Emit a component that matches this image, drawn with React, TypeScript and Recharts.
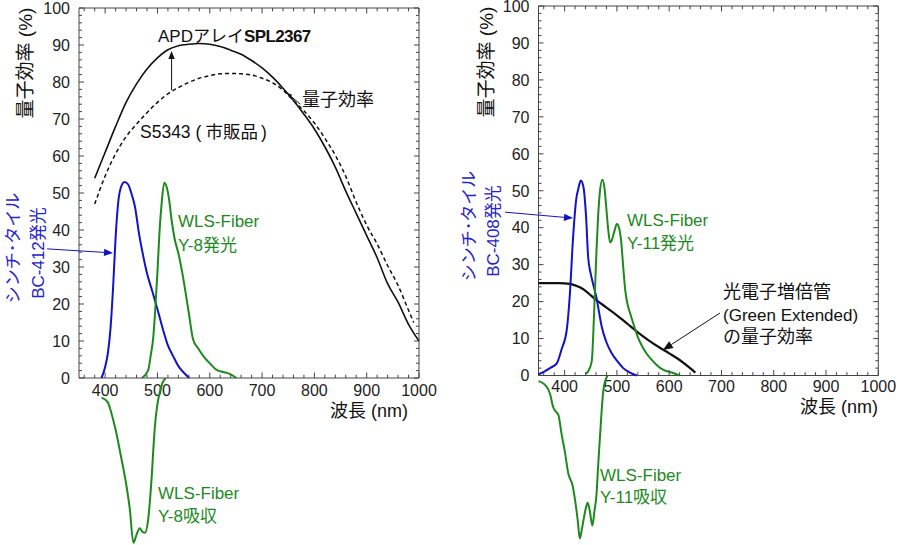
import React from "react";
import { LineChart, Line, XAxis, YAxis, ReferenceLine, ReferenceArea } from "recharts";

type Pt = [number, number];

// 軸の目盛り (主目盛りにだけ数字を付ける)
const X_TICKS = [400, 500, 600, 700, 800, 900, 1000];
const Y_TICKS = [0, 10, 20, 30, 40, 50, 60, 70, 80, 90, 100];
const X_ALL = Array.from({ length: 33 }, (_, i) => 360 + i * 20);
const Y_ALL = Array.from({ length: 51 }, (_, i) => i * 2);

// 左: APDアレイ / S5343 の量子効率 [nm, %]
const APD_SPL2367: Pt[] = [
  [380, 54], [400, 61], [420, 68], [440, 74.5], [460, 79.5], [480, 83.5], [500, 86.5],
  [520, 88.7], [540, 89.8], [560, 90.2], [580, 90.4], [600, 90.2], [620, 89.6], [640, 88.6],
  [660, 87.5], [680, 85.8], [700, 83.8], [720, 81.3], [740, 78.3], [760, 75], [780, 71.3],
  [800, 67.3], [820, 62.5], [840, 57], [860, 50.5], [880, 44.5], [900, 38.5], [920, 32.5],
  [940, 25.5], [960, 20.5], [980, 14.5], [1000, 10],
];
const S5343: Pt[] = [
  [380, 47], [400, 54.6], [420, 60.6], [440, 65.2], [460, 68.6], [480, 71.7], [500, 74.5],
  [520, 76.8], [540, 78.5], [560, 79.9], [580, 81], [600, 81.7], [620, 82.2], [640, 82.3],
  [660, 82.2], [680, 81.9], [700, 81], [720, 79.8], [740, 77.8], [760, 75], [780, 72.2],
  [800, 68.9], [820, 64.8], [840, 60.2], [860, 54.5], [880, 47.5], [900, 41.3], [920, 36.2],
  [940, 30.4], [960, 25], [980, 18.3], [990, 15],
];
// 左: BC-412 発光, Y-8 発光・吸収
const BC412_EM: Pt[] = [
  [393, 0], [400, 3], [405, 6.5], [410, 13], [415, 24], [420, 38], [425, 47.5], [430, 51.5],
  [437, 53], [444, 52.3], [450, 50], [457, 46.3], [465, 38.8], [472, 33.5], [480, 28.3],
  [490, 23.5], [500, 18.6], [510, 13.4], [520, 8.8], [530, 5.9], [540, 3.2], [550, 1.5], [561, 0],
];
const Y8_EM: Pt[] = [
  [470, 0], [482, 2], [487, 6], [492, 11], [496, 19], [500, 28.7], [504, 39.8], [508, 47.2],
  [513, 52.8], [518, 51.4], [522, 48.5], [527, 42.7], [533, 37.5], [540, 33.7], [548, 28],
  [555, 22], [560, 17.5], [568, 10.5], [578, 8], [590, 5.5], [600, 4], [613, 2.2], [630, 1.5],
  [640, 1], [651, 0],
];
const Y8_ABS: Pt[] = [
  [393, -5.3], [405, -6.5], [412, -9.5], [420, -14], [430, -21], [440, -28.5], [447, -35.2],
  [454, -44.5], [460, -42.3], [466, -40.6], [471, -41.5], [476, -41.8], [482, -38.5],
  [486, -32.5], [489, -26.7], [492, -19.5], [495, -13.2], [500, -7], [505, -3.5], [510, -1.2],
  [516, 0],
];

// 右: 光電子増倍管 (Green Extended), BC-408 発光, Y-11 発光・吸収
const PMT_GE: Pt[] = [
  [350, 25], [370, 25], [390, 25], [410, 24.8], [420, 24.4], [430, 23.8], [440, 22.9],
  [450, 21.7], [460, 20.5], [480, 18.4], [500, 16.3], [520, 14], [540, 11.7], [560, 9.6],
  [580, 7.7], [600, 6], [620, 4.2], [640, 2], [650, 0.8],
];
const BC408_EM: Pt[] = [
  [350, 0.3], [360, 1], [372, 2], [385, 3.3], [394, 7], [404, 12.3], [410, 22], [416, 37],
  [422, 47.5], [427, 51], [431, 52.8], [436, 51], [441, 43], [445, 32], [450, 27.5],
  [455, 24.5], [461, 21], [466, 17], [471, 13.2], [480, 9], [490, 6], [500, 4], [512, 2],
  [525, 0.8], [538, 0],
];
const Y11_EM: Pt[] = [
  [441, 0.5], [448, 2], [452, 4], [455, 12], [458, 23], [461, 34], [464, 43], [467, 49],
  [472, 53], [476, 51], [479, 46.5], [483, 40], [487, 36], [490, 36.5], [495, 39],
  [500, 41], [504, 40], [508, 36.5], [512, 29.5], [516, 23], [520, 19.5], [525, 17],
  [532, 13.8], [540, 10.4], [548, 8], [556, 6.1], [565, 4.5], [575, 3], [589, 1.5],
  [605, 0.8], [620, 0],
];
const Y11_ABS: Pt[] = [
  [350, -1.4], [360, -2.1], [366, -3], [372, -4.8], [378, -8.4], [384, -9.8], [388, -10.5],
  [394, -15.6], [401, -21], [407, -26.4], [411, -28], [415, -29.5], [420, -33.7], [425, -39],
  [429, -44], [433, -41.5], [437, -38.3], [441, -35.5], [444, -34.3], [448, -36.4],
  [453, -40.5], [457, -36.6], [461, -32], [464, -24.5], [468, -15.6], [471, -9], [474, -3.9],
  [478, -1.2], [482, 0],
];

const FONT = "'Liberation Sans', Arial, 'Noto Sans CJK JP', sans-serif";
const BLUE = "#1212c8";
const BLUE_TEXT = "#2323cc";
const GREEN = "#1d8a1d";
const INK = "#111";
const AXIS = "#444";

const rows = (pts: Pt[]) => pts.map(([x, y]) => ({ x, y }));

type Series = { data: Pt[]; color: string; width: number; dash?: string };
type Arrow = { from: Pt; to: Pt; color: string; head: number };

const okPts = (p: any) => [p.x1, p.y1, p.x2, p.y2].every((v) => typeof v === "number" && !isNaN(v));

// 矢印 (ReferenceLine の shape)
const arrowShape = (color: string, head: number) => (p: any) => {
  if (!okPts(p)) return <g />;
  const { x1, y1, x2, y2 } = p;
  const a = Math.atan2(y2 - y1, x2 - x1);
  const bx = x2 - head * Math.cos(a);
  const by = y2 - head * Math.sin(a);
  const w = head * 0.4;
  const px = -Math.sin(a) * w;
  const py = Math.cos(a) * w;
  return (
    <g>
      <line x1={x1} y1={y1} x2={bx} y2={by} stroke={color} strokeWidth={1} />
      <polygon points={`${x2},${y2} ${bx + px},${by + py} ${bx - px},${by - py}`} fill={color} />
    </g>
  );
};

type PanelProps = {
  plotLeft: number;
  plotRight: number;
  plotTop: number;
  plotBottom: number;
  absMin: number;
  labelGap: number;
  series: Series[];
  absorption: Pt[];
  arrows: Arrow[];
};

function Panel({ plotLeft, plotRight, plotTop, plotBottom, absMin, labelGap, series, absorption, arrows }: PanelProps) {
  const W = 450;
  const plotW = plotRight - plotLeft;
  const plotH = plotBottom - plotTop;

  // 横軸の目盛り: 下辺と上辺に内向きの線、主目盛りに数字
  const renderXTick = (p: any) => {
    const v = Number(p?.payload?.value);
    const x = p.x;
    const y0 = p.y;
    const major = v % 100 === 0;
    const len = major ? 5.5 : 3.3;
    return (
      <g>
        <line x1={x} x2={x} y1={y0} y2={y0 - len} stroke={AXIS} strokeWidth={1} />
        <line x1={x} x2={x} y1={y0 - plotH} y2={y0 - plotH + len} stroke={AXIS} strokeWidth={1} />
        {X_TICKS.includes(v) && (
          <text x={x} y={y0 + labelGap} dy="0.71em" textAnchor="middle" fontSize={16} fill="#222">
            {v}
          </text>
        )}
      </g>
    );
  };

  // 縦軸の目盛り: 左辺と右辺に内向きの線、主目盛りに数字
  const renderYTick = (p: any) => {
    const v = Number(p?.payload?.value);
    const x0 = p.x;
    const y = p.y;
    const major = v % 10 === 0;
    const len = major ? 5 : 3;
    return (
      <g>
        <line x1={x0} x2={x0 + len} y1={y} y2={y} stroke={AXIS} strokeWidth={1} />
        <line x1={x0 + plotW} x2={x0 + plotW - len} y1={y} y2={y} stroke={AXIS} strokeWidth={1} />
        {Y_TICKS.includes(v) && (
          <text x={x0 - 9} y={y} dy="0.36em" textAnchor="end" fontSize={16} fill="#222">
            {v}
          </text>
        )}
      </g>
    );
  };

  return (
    <>
      <div style={{ position: "absolute", left: 0, top: 0 }}>
        <LineChart
          width={W}
          height={plotBottom + 30}
          margin={{ top: plotTop, right: W - plotRight, left: plotLeft - 60, bottom: 0 }}
        >
          <XAxis
            dataKey="x"
            type="number"
            domain={[350, 1000]}
            ticks={X_ALL}
            interval={0}
            height={30}
            axisLine={false}
            tickLine={false}
            tickSize={0}
            tickMargin={0}
            tick={renderXTick}
          />
          <YAxis
            type="number"
            domain={[0, 100]}
            ticks={Y_ALL}
            interval={0}
            width={60}
            axisLine={false}
            tickLine={false}
            tickSize={0}
            tickMargin={0}
            tick={renderYTick}
          />
          <ReferenceArea x1={350} x2={1000} y1={0} y2={100} fill="none" stroke={AXIS} strokeWidth={1} ifOverflow="visible" />
          {series.map((s, i) => (
            <Line
              key={i}
              data={rows(s.data)}
              dataKey="y"
              type="monotone"
              stroke={s.color}
              strokeWidth={s.width}
              strokeDasharray={s.dash}
              dot={false}
              activeDot={false}
              isAnimationActive={false}
            />
          ))}
          {arrows.map((a, i) => (
            <ReferenceLine
              key={`ar${i}`}
              segment={[{ x: a.from[0], y: a.from[1] }, { x: a.to[0], y: a.to[1] }]}
              ifOverflow="visible"
              shape={arrowShape(a.color, a.head)}
            />
          ))}
        </LineChart>
      </div>
      {/* 吸収スペクトルは横軸の下に描く */}
      <div style={{ position: "absolute", left: 0, top: plotBottom - 10 }}>
        <LineChart
          width={W}
          height={545 - plotBottom + 10}
          margin={{ top: 10, right: W - plotRight, left: plotLeft, bottom: 0 }}
        >
          <XAxis dataKey="x" type="number" domain={[350, 1000]} hide />
          <YAxis type="number" domain={[absMin, 0]} hide />
          <Line
            data={rows(absorption)}
            dataKey="y"
            type="monotone"
            stroke={GREEN}
            strokeWidth={2}
            dot={false}
            activeDot={false}
            isAnimationActive={false}
          />
        </LineChart>
      </div>
    </>
  );
}

function VText({ x, y, size, color, children }: { x: number; y: number; size: number; color: string; children: React.ReactNode }) {
  return (
    <text x={x} y={y} transform={`rotate(-90 ${x} ${y})`} textAnchor="middle" dominantBaseline="central" fontSize={size} fill={color}>
      {children}
    </text>
  );
}

export default function App() {
  return (
    <div style={{ position: "absolute", left: 0, top: 0, width: 900, height: 545, background: "#fff", fontFamily: FONT }}>
      <div style={{ position: "absolute", left: 0, top: 0, width: 450, height: 545 }}>
        <Panel
          plotLeft={79}
          plotRight={419}
          plotTop={8}
          plotBottom={378}
          absMin={-45.1}
          labelGap={7}
          series={[
            { data: S5343, color: INK, width: 1.5, dash: "4 3" },
            { data: APD_SPL2367, color: INK, width: 1.6 },
            { data: BC412_EM, color: BLUE, width: 2 },
            { data: Y8_EM, color: GREEN, width: 2 },
          ]}
          absorption={Y8_ABS}
          arrows={[
            { from: [527, 77.8], to: [527, 88.4], color: INK, head: 8 },
            { from: [773, 74], to: [748, 77], color: INK, head: 5 },
            { from: [289, 34.9], to: [415, 33.8], color: BLUE, head: 9 },
          ]}
        />
      </div>
      <div style={{ position: "absolute", left: 450, top: 0, width: 450, height: 545 }}>
        <Panel
          plotLeft={88.5}
          plotRight={428.3}
          plotTop={6}
          plotBottom={375.5}
          absMin={-45.9}
          labelGap={5}
          series={[
            { data: PMT_GE, color: INK, width: 2.2 },
            { data: BC408_EM, color: BLUE, width: 2 },
            { data: Y11_EM, color: GREEN, width: 2 },
          ]}
          absorption={Y11_ABS}
          arrows={[
            { from: [286, 44.2], to: [416, 42.6], color: BLUE, head: 9 },
            { from: [697, 16.9], to: [588, 6.9], color: INK, head: 10 },
          ]}
        />
      </div>
      <svg width={900} height={545} style={{ position: "absolute", left: 0, top: 0, pointerEvents: "none" }} fontFamily={FONT}>
        {/* 左パネル */}
        <VText x={25} y={63} size={19} color={INK}>量子効率 (%)</VText>
        <VText x={13} y={248} size={17} color={BLUE_TEXT}>シンチ･タイル</VText>
        <VText x={38} y={253} size={17} color={BLUE_TEXT}>BC-412発光</VText>
        <text x={158} y={36} dominantBaseline="central" fontSize={17} fill={INK}>
          APDアレイ<tspan fontWeight="bold" letterSpacing={-0.6}>SPL2367</tspan>
        </text>
        <text x={140} y={132} dominantBaseline="central" fontSize={17.5} fill={INK}>
          S5343<tspan dx={5}>(</tspan><tspan dx={4}>市販品</tspan><tspan dx={3}>)</tspan>
        </text>
        <text x={302} y={100} dominantBaseline="central" fontSize={18} fill={INK}>量子効率</text>
        <text x={178} y={221} dominantBaseline="central" fontSize={17} fill={GREEN}>WLS-Fiber</text>
        <text x={178} y={245} dominantBaseline="central" fontSize={17} fill={GREEN}>Y-8発光</text>
        <text x={158} y={493} dominantBaseline="central" fontSize={17} fill={GREEN}>WLS-Fiber</text>
        <text x={158} y={516} dominantBaseline="central" fontSize={17} fill={GREEN}>Y-8吸収</text>
        <text x={408} y={411} textAnchor="end" dominantBaseline="central" fontSize={18} fill={INK}>波長 (nm)</text>
        {/* 右パネル */}
        <VText x={486} y={62} size={19} color={INK}>量子効率 (%)</VText>
        <VText x={469} y={226} size={17} color={BLUE_TEXT}>シンチ･タイル</VText>
        <VText x={493.5} y={231} size={17} color={BLUE_TEXT}>BC-408発光</VText>
        <text x={627} y={220} dominantBaseline="central" fontSize={17} fill={GREEN}>WLS-Fiber</text>
        <text x={627} y={243} dominantBaseline="central" fontSize={17} fill={GREEN}>Y-11発光</text>
        <text x={723} y={292} dominantBaseline="central" fontSize={18} fill={INK}>光電子増倍管</text>
        <text x={723} y={315} dominantBaseline="central" fontSize={17} fill={INK}>(Green Extended)</text>
        <text x={723} y={337} dominantBaseline="central" fontSize={18} fill={INK}>の量子効率</text>
        <text x={600} y={475} dominantBaseline="central" fontSize={17} fill={GREEN}>WLS-Fiber</text>
        <text x={600} y={497} dominantBaseline="central" fontSize={17} fill={GREEN}>Y-11吸収</text>
        <text x={878} y={407} textAnchor="end" dominantBaseline="central" fontSize={18} fill={INK}>波長 (nm)</text>
      </svg>
    </div>
  );
}
